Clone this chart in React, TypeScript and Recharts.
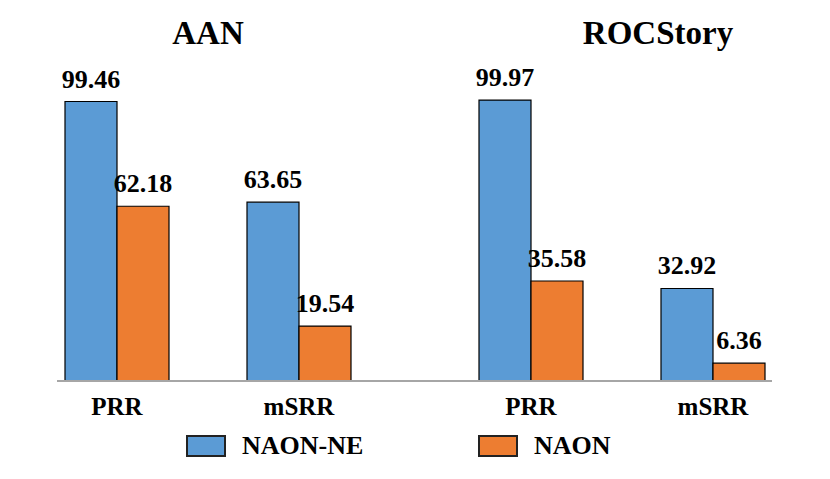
import React from "react";
import { Bar, BarChart, LabelList, XAxis, YAxis } from "recharts";

const metrics = ["PRR", "mSRR"];
const aanNaonNe = [99.46, 63.65];
const aanNaon = [62.18, 19.54];
const rocNaonNe = [99.97, 32.92];
const rocNaon = [35.58, 6.36];

const seriesNames = ["NAON-NE", "NAON"];
const seriesColors = ["#5B9BD5", "#ED7D31"];

const FONT = '"Liberation Serif", "Times New Roman", serif';

const build = (a: number[], b: number[]) =>
  metrics.map((m, i) => ({ metric: m, ne: a[i], naon: b[i] }));

const aanData = build(aanNaonNe, aanNaon);
const rocData = build(rocNaonNe, rocNaon);

const labelStyle = { fontFamily: FONT, fontWeight: 700, fontSize: 26, fill: "#000" };

const Panel = ({ data, left, ml, mr }: { data: any[]; left: number; ml: number; mr: number }) => (
  <div style={{ position: "absolute", left, top: 0 }}>
    <BarChart
      width={415}
      height={479}
      data={data}
      margin={{ top: 100, right: mr, left: ml, bottom: 0 }}
      barGap={0}
      barSize={52}
    >
      <XAxis
        dataKey="metric"
        axisLine={false}
        tickLine={false}
        tickSize={0}
        tickMargin={16}
        height={98}
        tick={{ fontFamily: FONT, fontWeight: 700, fontSize: 25, fill: "#000" }}
      />
      <YAxis hide domain={[0, 100]} />
      <Bar dataKey="ne" fill={seriesColors[0]} stroke="#000" strokeWidth={1.2} isAnimationActive={false}>
        <LabelList dataKey="ne" position="top" offset={14} style={labelStyle} />
      </Bar>
      <Bar dataKey="naon" fill={seriesColors[1]} stroke="#000" strokeWidth={1.2} isAnimationActive={false}>
        <LabelList dataKey="naon" position="top" offset={14} style={labelStyle} />
      </Bar>
    </BarChart>
  </div>
);

const titleStyle: React.CSSProperties = {
  position: "absolute",
  top: 13,
  fontFamily: FONT,
  fontWeight: 700,
  fontSize: 33,
  lineHeight: "40px",
  transform: "translateX(-50%)",
  whiteSpace: "nowrap",
};

export default function App() {
  return (
    <div
      style={{
        position: "absolute",
        left: 0,
        top: 0,
        width: 830,
        height: 479,
        background: "#fff",
        overflow: "hidden",
      }}
    >
      <div style={{ ...titleStyle, left: 208 }}>AAN</div>
      <div style={{ ...titleStyle, left: 658 }}>ROCStory</div>
      <Panel data={aanData} left={0} ml={26} mr={25} />
      <Panel data={rocData} left={415} ml={25} mr={26} />
      {/* shared baseline across both panels */}
      <div
        style={{
          position: "absolute",
          left: 57,
          width: 715,
          top: 380,
          height: 2,
          background: "#A6A6A6",
        }}
      />
      {seriesNames.map((name, i) => (
        <div
          key={name}
          style={{
            position: "absolute",
            left: i === 0 ? 186 : 478,
            top: 430,
            display: "flex",
            alignItems: "center",
            fontFamily: FONT,
            fontWeight: 700,
            fontSize: 26,
            lineHeight: "32px",
          }}
        >
          <span
            style={{
              display: "inline-block",
              width: 36,
              height: 18,
              background: seriesColors[i],
              border: "2px solid #222",
              marginRight: 16,
            }}
          />
          {name}
        </div>
      ))}
    </div>
  );
}
